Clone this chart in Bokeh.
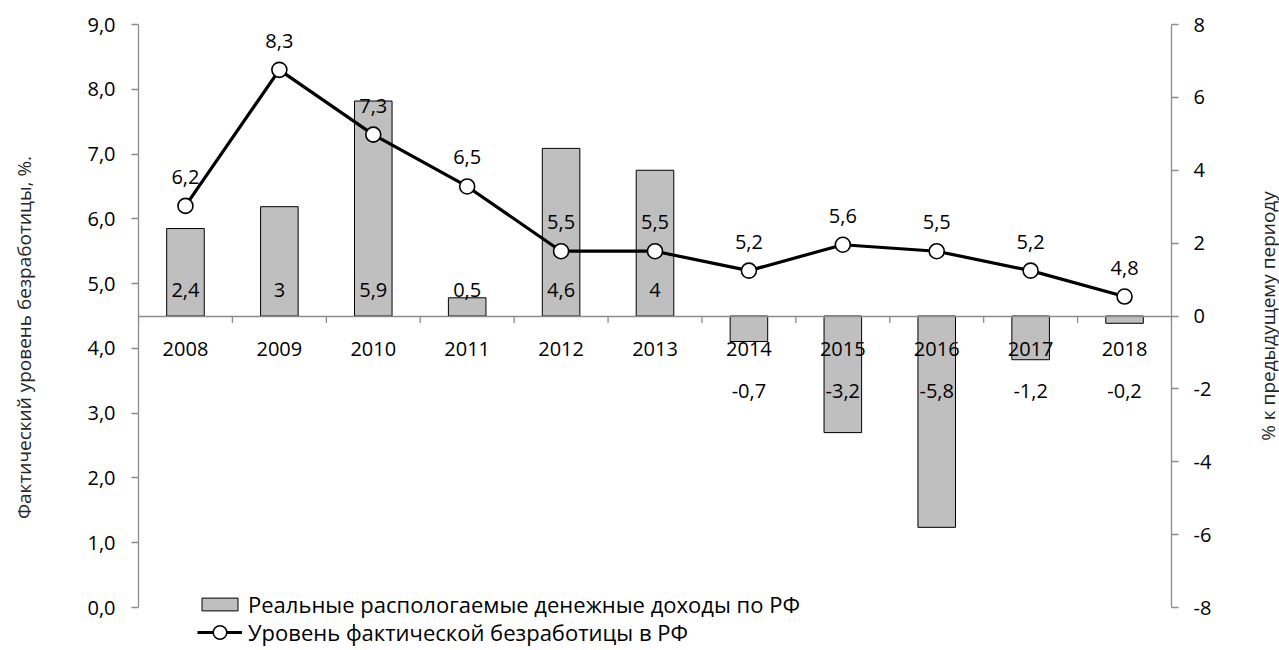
import math
from bokeh.plotting import figure
from bokeh.models import (Range1d, LinearAxis, FactorRange, CustomJSTickFormatter,
                          SingleIntervalTicker, Legend, LegendItem, Label)
from bokeh.embed import file_html
from bokeh.resources import INLINE
from bokeh.core.properties import value

years = ["2008", "2009", "2010", "2011", "2012", "2013", "2014", "2015", "2016", "2017", "2018"]
income = [2.4, 3, 5.9, 0.5, 4.6, 4, -0.7, -3.2, -5.8, -1.2, -0.2]
unemployment = [6.2, 8.3, 7.3, 6.5, 5.5, 5.5, 5.2, 5.6, 5.5, 5.2, 4.8]

bar_name = "Реальные распологаемые денежные доходы по РФ"
line_name = "Уровень фактической безработицы в РФ"
left_title = "Фактический уровень безработицы, %."
right_title = "% к предыдущему периоду"

FONT = "Open Sans"
AXIS_GRAY = "#8c8c8c"
TXT = "#000000"
TITLE_COLOR = "#262626"

income_text = [f"{v:g}".replace(".", ",") for v in income]
unemp_text = [f"{v:.1f}".replace(".", ",") for v in unemployment]

# axis extents; the frame reaches below the axes to hold the legend
L_MIN, L_MAX = 0, 9
R_MIN, R_MAX = -8, 8
PAD = 43 / 583  # extra frame room below the axes, as a fraction of the axis span

W, H = 1279, 650
BORDER_L, BORDER_R = 138, 108
p = figure(x_range=FactorRange(*years),
           y_range=Range1d(L_MIN - (L_MAX - L_MIN) * PAD, L_MAX),
           width=W, height=H, output_backend="svg", toolbar_location=None,
           min_border_left=BORDER_L, min_border_right=BORDER_R, min_border_top=24,
           min_border_bottom=0)
p.extra_y_ranges = {"inc": Range1d(R_MIN - (R_MAX - R_MIN) * PAD, R_MAX)}
p.xgrid.grid_line_color = None
p.ygrid.grid_line_color = None
p.outline_line_color = None

# bars
bars = p.vbar(x=years, top=income, bottom=0, width=0.4, y_range_name="inc",
              fill_color="#bfbfbf", line_color="black", line_width=1)

# category boundary ticks
bounds = [(y, -0.5) for y in years] + [(years[-1], 0.5)]
p.ray(x=bounds, y=[0] * len(bounds), y_range_name="inc", length=7, length_units="screen",
      angle=-math.pi / 2, line_color=AXIS_GRAY, line_width=1.3)

# line
ln = p.line(years, unemployment, line_color="black", line_width=3.2)
mk = p.scatter(years, unemployment, size=15, fill_color="white", line_color="black",
               line_width=1.6)

# labels
p.text(x=years, y=unemployment, text=unemp_text, text_align="center", text_baseline="middle",
       y_offset=-29, text_font=value(FONT), text_font_size="20px", text_color=TXT)

pos_idx = [i for i, v in enumerate(income) if v >= 0]
neg_idx = [i for i, v in enumerate(income) if v < 0]
p.text(x=[years[i] for i in pos_idx], y=[0] * len(pos_idx), text=[income_text[i] for i in pos_idx],
       y_range_name="inc", text_align="center", text_baseline="middle", y_offset=-26,
       text_font=value(FONT), text_font_size="20px", text_color=TXT)
p.text(x=[years[i] for i in neg_idx], y=[0] * len(neg_idx), text=[income_text[i] for i in neg_idx],
       y_range_name="inc", text_align="center", text_baseline="middle", y_offset=75,
       text_font=value(FONT), text_font_size="20px", text_color=TXT)

# axes
def style_axis(ax):
    ax.axis_line_color = AXIS_GRAY
    ax.axis_line_width = 1.3
    ax.major_tick_line_color = AXIS_GRAY
    ax.major_tick_line_width = 1.3
    ax.major_tick_in = 0
    ax.major_tick_out = 7
    ax.minor_tick_line_color = None
    ax.major_label_text_font = FONT
    ax.major_label_text_font_size = "20px"
    ax.major_label_text_color = TXT
    ax.axis_label_text_font = FONT
    ax.axis_label_text_font_size = "19px"
    ax.axis_label_text_font_style = "normal"
    ax.axis_label_text_color = TITLE_COLOR

ly = p.yaxis[0]
style_axis(ly)
ly.bounds = (L_MIN, L_MAX)
ly.ticker = SingleIntervalTicker(interval=1)
ly.formatter = CustomJSTickFormatter(code="return tick.toFixed(1).replace('.', ',');")
ly.axis_label = left_title
ly.major_label_standoff = 16
ly.axis_label_standoff = 47

ry = LinearAxis(y_range_name="inc", ticker=SingleIntervalTicker(interval=2))
style_axis(ry)
ry.bounds = (R_MIN, R_MAX)
ry.formatter = CustomJSTickFormatter(code="return String(tick);")
ry.major_label_standoff = 15
p.add_layout(ry, "right")

# right-hand axis title, read bottom to top like the left one (placed in the right panel)
p.add_layout(Label(x=53, y=(L_MIN + L_MAX) / 2, x_units="screen", y_units="data",
                   text=right_title, angle=math.pi / 2, text_align="center",
                   text_baseline="middle", text_font=FONT, text_font_size="19px",
                   text_color=TITLE_COLOR), "right")

xa = p.xaxis[0]
style_axis(xa)
xa.fixed_location = (L_MIN + L_MAX) / 2
xa.major_tick_line_color = None
xa.major_label_standoff = 19


def make_legend(item, loc, gh):
    lg = Legend(items=[item], location=loc)
    lg.background_fill_alpha = 0
    lg.border_line_color = None
    lg.padding = 0
    lg.margin = 0
    lg.spacing = 0
    lg.glyph_width = 45
    lg.glyph_height = gh
    lg.label_standoff = 6
    lg.label_text_font = FONT
    lg.label_text_font_size = "22px"
    lg.label_text_color = TXT
    p.add_layout(lg)


make_legend(LegendItem(label=bar_name, renderers=[bars]), (59, 31), 16)
make_legend(LegendItem(label=line_name, renderers=[ln, mk]), (59, 1), 34)

open("out.html", "w").write(file_html(p, INLINE))
